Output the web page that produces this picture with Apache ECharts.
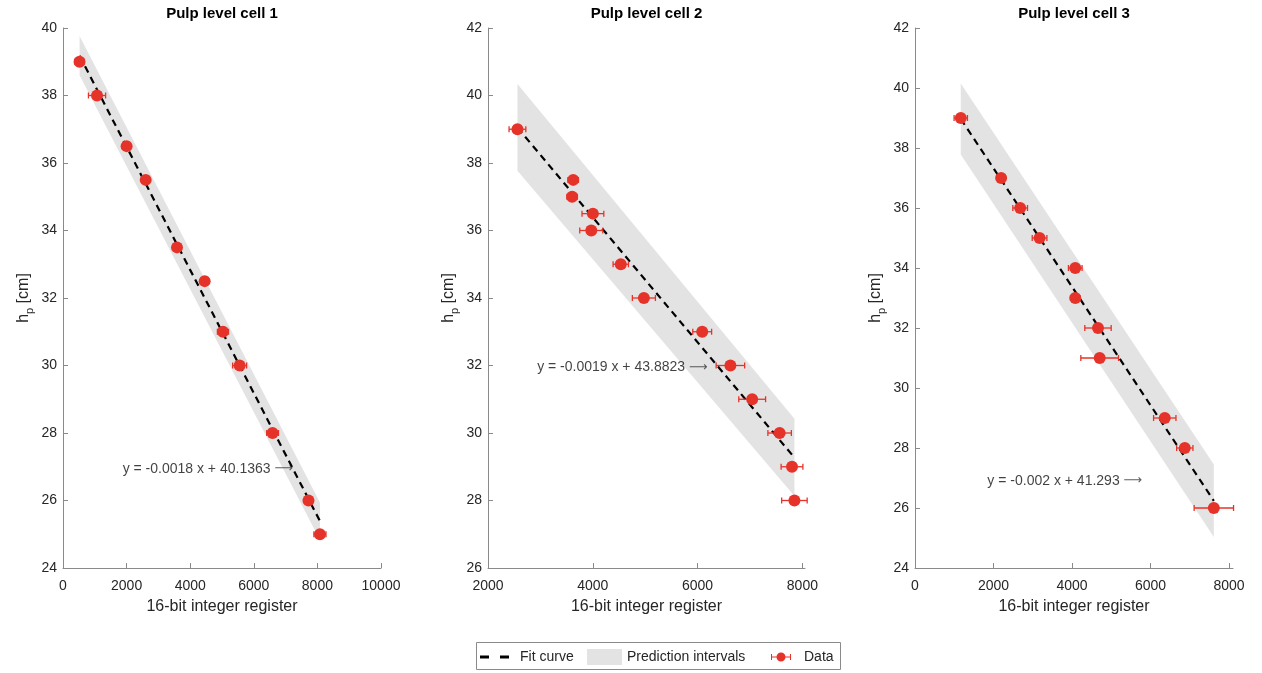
<!DOCTYPE html>
<html>
<head>
<meta charset="utf-8">
<script src="https://cdn.jsdelivr.net/npm/echarts@6/dist/echarts.min.js"></script>
<style>
  html, body { margin: 0; padding: 0; background: #fff; }
  #main { width: 1262px; height: 673px; }
</style>
</head>
<body>
<div id="main"></div>
<script>
// ---- cell 1 ----
const x1 = [520, 1070, 2000, 2600, 3585, 4455, 5030, 5555, 6590, 7720, 8080];
const y1 = [39, 38, 36.5, 35.5, 33.5, 32.5, 31, 30, 28, 26, 25];
const err1 = [150, 270, 100, 100, 100, 100, 175, 220, 185, 100, 190];
const fitX1 = [520, 8080];
const fitY1 = [39.18, 25.39];
const bandUp1 = [39.76, 25.94];
const bandLo1 = [38.6, 24.83];

// ---- cell 2 ----
const x2 = [2562, 3626, 3606, 4002, 3971, 4534, 4975, 6088, 6626, 7042, 7566, 7802, 7848];
const y2 = [39, 37.5, 37, 36.5, 36, 35, 34, 33, 32, 31, 30, 29, 28];
const err2 = [160, 100, 100, 208, 220, 147, 220, 180, 272, 256, 224, 208, 243];
const fitX2 = [2562, 7848];
const fitY2 = [39.05, 29.27];
const bandUp2 = [40.34, 30.42];
const bandLo2 = [37.77, 28.13];

// ---- cell 3 ----
const x3 = [1166, 2194, 2679, 3173, 4082, 4082, 4661, 4704, 6362, 6872, 7612];
const y3 = [39, 37, 36, 35, 34, 33, 32, 31, 29, 28, 26];
const err3 = [170, 100, 187, 187, 174, 120, 336, 480, 285, 208, 502];
const fitX3 = [1166, 7612];
const fitY3 = [38.97, 26.24];
const bandUp3 = [40.15, 27.45];
const bandLo3 = [37.78, 25.03];

const titles = ['Pulp level cell 1', 'Pulp level cell 2', 'Pulp level cell 3'];
const eqTexts = ['y = -0.0018 x + 40.1363 ', 'y = -0.0019 x + 43.8823 ', 'y = -0.002 x + 41.293 '];
const eqAnchors = [[7250, 26.93], [6200, 31.95], [5800, 26.9]];
const xTicks = [[0, 2000, 4000, 6000, 8000, 10000], [2000, 4000, 6000, 8000], [0, 2000, 4000, 6000, 8000]];
const xRange = [[0, 10000], [2000, 8050], [0, 8100]];
const yRange = [[24, 40], [26, 42], [24, 42]];

const panels = [
  { x: x1, y: y1, err: err1, fitX: fitX1, fitY: fitY1, up: bandUp1, lo: bandLo1 },
  { x: x2, y: y2, err: err2, fitX: fitX2, fitY: fitY2, up: bandUp2, lo: bandLo2 },
  { x: x3, y: y3, err: err3, fitX: fitX3, fitY: fitY3, up: bandUp3, lo: bandLo3 },
];

const RED = '#e6332a';
const GREY = '#e3e3e3';
const TXT = '#262626';
const AXIS = '#8a8a8a';
const FONT = 'Liberation Sans, Arial, Helvetica, sans-serif';

// plot boxes in px (left, right)
const boxes = [[63, 881], [488, 457], [915, 29]];

const grid = [], xAxis = [], yAxis = [], series = [], title = [];

panels.forEach((p, i) => {
  grid.push({ left: boxes[i][0], right: boxes[i][1], top: 28, bottom: 105, containLabel: false });
  title.push({
    text: titles[i],
    left: boxes[i][0] + (1262 - boxes[i][1] - boxes[i][0]) / 2,
    top: 6,
    padding: 0,
    textAlign: 'center',
    textStyle: { fontFamily: FONT, fontSize: 15, fontWeight: 'bold', color: '#000' },
  });
  xAxis.push({
    type: 'value',
    gridIndex: i,
    min: xRange[i][0],
    max: xRange[i][1],
    interval: 2000,
    name: '16-bit integer register',
    nameLocation: 'middle',
    nameGap: 31,
    nameTextStyle: { fontFamily: FONT, fontSize: 16, color: TXT },
    axisLine: { show: true, lineStyle: { color: AXIS, width: 1 } },
    axisTick: { show: true, inside: true, length: 5, lineStyle: { color: AXIS }, customValues: xTicks[i] },
    axisLabel: {
      fontFamily: FONT, fontSize: 14, color: TXT, margin: 11, customValues: xTicks[i],
      formatter: (v) => String(v),
    },
    splitLine: { show: false },
  });
  yAxis.push({
    type: 'value',
    gridIndex: i,
    min: yRange[i][0],
    max: yRange[i][1],
    interval: 2,
    name: 'h{sub|p} [cm]',
    nameLocation: 'middle',
    nameGap: 28,
    nameTextStyle: {
      fontFamily: FONT, fontSize: 16, color: TXT, lineHeight: 22,
      rich: { sub: { fontFamily: FONT, fontSize: 11, lineHeight: 11, verticalAlign: 'bottom', color: TXT } },
    },
    axisLine: { show: true, lineStyle: { color: AXIS, width: 1 } },
    axisTick: { show: true, inside: true, length: 5, lineStyle: { color: AXIS } },
    axisLabel: { fontFamily: FONT, fontSize: 14, color: TXT, margin: 6 },
    splitLine: { show: false },
  });

  // prediction band
  series.push({
    name: 'Prediction intervals',
    type: 'custom',
    xAxisIndex: i,
    yAxisIndex: i,
    z: 1,
    itemStyle: { color: GREY },
    data: p.fitX.map((x, k) => [x, p.lo[k], p.up[k]]),
    renderItem: (params, api) => {
      if (params.dataIndex !== 0) return;
      const pts = [];
      p.fitX.forEach((x, k) => pts.push(api.coord([x, p.up[k]])));
      for (let k = p.fitX.length - 1; k >= 0; k--) pts.push(api.coord([p.fitX[k], p.lo[k]]));
      return { type: 'polygon', shape: { points: pts }, style: { fill: GREY } };
    },
  });

  // fit line
  series.push({
    name: 'Fit curve',
    type: 'line',
    xAxisIndex: i,
    yAxisIndex: i,
    z: 2,
    symbol: 'none',
    color: '#000',
    lineStyle: { color: '#000', width: 2.2, type: [7, 5] },
    data: p.fitX.map((x, k) => [x, p.fitY[k]]),
  });

  // horizontal error bars
  series.push({
    name: 'Data error',
    type: 'custom',
    xAxisIndex: i,
    yAxisIndex: i,
    z: 3,
    data: p.x.map((x, k) => [x, p.y[k], p.err[k]]),
    renderItem: (params, api) => {
      const x = api.value(0), y = api.value(1), e = api.value(2);
      const a = api.coord([x - e, y]);
      const b = api.coord([x + e, y]);
      const st = { stroke: RED, lineWidth: 1.3 };
      return {
        type: 'group',
        children: [
          { type: 'line', shape: { x1: a[0], y1: a[1], x2: b[0], y2: b[1] }, style: st },
          { type: 'line', shape: { x1: a[0], y1: a[1] - 3, x2: a[0], y2: a[1] + 3 }, style: st },
          { type: 'line', shape: { x1: b[0], y1: b[1] - 3, x2: b[0], y2: b[1] + 3 }, style: st },
        ],
      };
    },
  });

  // markers
  series.push({
    name: 'Data',
    type: 'scatter',
    xAxisIndex: i,
    yAxisIndex: i,
    z: 4,
    symbol: 'circle',
    symbolSize: 12,
    itemStyle: { color: RED, opacity: 1 },
    data: p.x.map((x, k) => [x, p.y[k]]),
  });

  // equation text with arrow
  series.push({
    name: 'eq' + i,
    type: 'scatter',
    xAxisIndex: i,
    yAxisIndex: i,
    z: 5,
    symbolSize: 1,
    itemStyle: { color: 'transparent' },
    label: {
      show: true,
      position: 'left',
      distance: 0,
      formatter: eqTexts[i] + '{arr|⟶}',
      fontFamily: FONT,
      fontSize: 14,
      color: '#111',
      rich: { arr: { fontFamily: 'DejaVu Sans', fontSize: 13, color: '#333' } },
    },
    data: [eqAnchors[i]],
  });
});

const legendText = { fontFamily: FONT, fontSize: 14, color: TXT };
const legend = [
  {
    data: [{ name: 'Fit curve', icon: 'path://M0,0H9V3H0Z M20,0H29V3H20Z', itemStyle: { color: '#000', borderWidth: 0 } }],
    left: 480, top: 650, padding: 0, itemWidth: 29, itemHeight: 3,
    selectedMode: false,
    textStyle: Object.assign({ padding: [0, 0, 0, 6] }, legendText),
  },
  {
    data: [{ name: 'Prediction intervals', icon: 'rect', itemStyle: { color: GREY, borderWidth: 0 } }],
    left: 587, top: 649, padding: 0, itemWidth: 35, itemHeight: 16,
    selectedMode: false,
    textStyle: legendText,
  },
  {
    data: [{
      name: 'Data',
      icon: 'path://M0,4H20V5H0Z M0,1.5H1V7.5H0Z M19,1.5H20V7.5H19Z M14.5,4.5A4.5,4.5 0 1,1 5.5,4.5A4.5,4.5 0 1,1 14.5,4.5Z',
      itemStyle: { color: RED, borderWidth: 0 },
    }],
    left: 771, top: 650, padding: 0, itemWidth: 20, itemHeight: 9,
    selectedMode: false,
    textStyle: Object.assign({ padding: [0, 0, 0, 8] }, legendText),
  },
];

const chart = echarts.init(document.getElementById('main'));
chart.setOption({
  animation: false,
  backgroundColor: '#fff',
  title: title,
  grid: grid,
  xAxis: xAxis,
  yAxis: yAxis,
  legend: legend,
  series: series,
  graphic: [{
    type: 'rect',
    z: -10,
    shape: { x: 476.5, y: 642.5, width: 364, height: 27 },
    style: { fill: 'none', stroke: AXIS, lineWidth: 1 },
  }],
});
</script>
</body>
</html>
